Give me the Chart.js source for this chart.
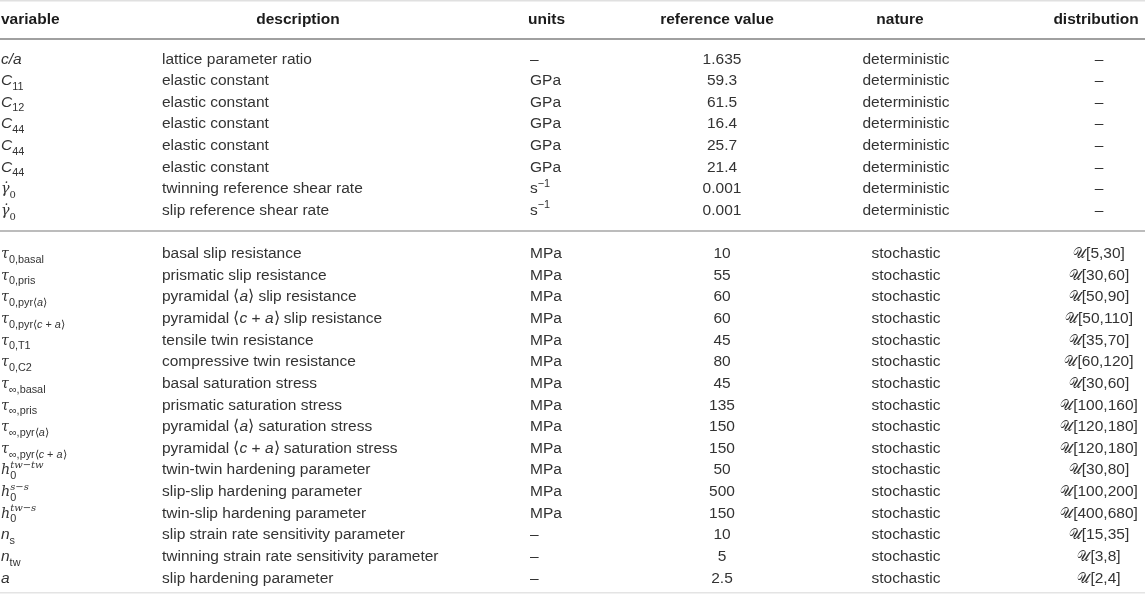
<!DOCTYPE html>
<html>
<head>
<meta charset="utf-8">
<script src="https://cdn.jsdelivr.net/npm/chart.js@4/dist/chart.umd.min.js"></script>
<style>
  html, body { margin: 0; padding: 0; background: #fff; }
  #wrap { width: 1145px; height: 595px; position: relative; }
</style>
</head>
<body>
<div id="wrap"><canvas id="table-chart"></canvas></div>
<script>
// markup: * toggles italic, ! toggles serif, _{..} subscript, ^{..} superscript
const variables = [
    '*c/a*', '*C*_{11}', '*C*_{12}', '*C*_{44}', '*C*_{44}', '*C*_{44}', '!*γ̇*!_{!0!}', '!*γ̇*!_{!0!}',
    '!*τ*!_{0,basal}', '!*τ*!_{0,pris}', '!*τ*!_{0,pyr⟨*a*⟩}', '!*τ*!_{0,pyr⟨*c* + *a*⟩}', '!*τ*!_{0,T1}', '!*τ*!_{0,C2}',
    '!*τ*!_{∞,basal}', '!*τ*!_{∞,pris}', '!*τ*!_{∞,pyr⟨*a*⟩}', '!*τ*!_{∞,pyr⟨*c* + *a*⟩}',
    '!*h*!_{0}^{!*tw−tw*!}', '!*h*!_{0}^{!*s−s*!}', '!*h*!_{0}^{!*tw−s*!}', '*n*_{s}', '*n*_{tw}', '*a*'
];
const descriptions = [
    'lattice parameter ratio', 'elastic constant', 'elastic constant', 'elastic constant', 'elastic constant',
    'elastic constant', 'twinning reference shear rate', 'slip reference shear rate',
    'basal slip resistance', 'prismatic slip resistance', 'pyramidal ⟨*a*⟩ slip resistance',
    'pyramidal ⟨*c* + *a*⟩ slip resistance', 'tensile twin resistance', 'compressive twin resistance',
    'basal saturation stress', 'prismatic saturation stress', 'pyramidal ⟨*a*⟩ saturation stress',
    'pyramidal ⟨*c* + *a*⟩ saturation stress', 'twin-twin hardening parameter', 'slip-slip hardening parameter',
    'twin-slip hardening parameter', 'slip strain rate sensitivity parameter',
    'twinning strain rate sensitivity parameter', 'slip hardening parameter'
];
const units = [
    '–', 'GPa', 'GPa', 'GPa', 'GPa', 'GPa', 's^{−1}', 's^{−1}',
    'MPa', 'MPa', 'MPa', 'MPa', 'MPa', 'MPa', 'MPa', 'MPa', 'MPa', 'MPa', 'MPa', 'MPa', 'MPa', '–', '–', '–'
];
const refValues = ['1.635', '59.3', '61.5', '16.4', '25.7', '21.4', '0.001', '0.001',
    10, 55, 60, 60, 45, 80, 45, 135, 150, 150, 50, 500, 150, 10, 5, 2.5];
const nature = ['deterministic', 'deterministic', 'deterministic', 'deterministic', 'deterministic',
    'deterministic', 'deterministic', 'deterministic',
    'stochastic', 'stochastic', 'stochastic', 'stochastic', 'stochastic', 'stochastic', 'stochastic', 'stochastic',
    'stochastic', 'stochastic', 'stochastic', 'stochastic', 'stochastic', 'stochastic', 'stochastic', 'stochastic'];
const distLow = [null, null, null, null, null, null, null, null,
    5, 30, 50, 50, 35, 60, 30, 100, 120, 120, 30, 100, 400, 15, 3, 2];
const distHigh = [null, null, null, null, null, null, null, null,
    30, 60, 90, 110, 70, 120, 60, 160, 180, 180, 80, 200, 680, 35, 8, 4];
const headers = ['variable', 'description', 'units', 'reference value', 'nature', 'distribution'];

const deterministicCount = 8;

// column layout (x scale units) and alignment
const columns = [
    {x: 1, align: 'left', hx: 1, halign: 'left'},
    {x: 162, align: 'left', hx: 298, halign: 'center'},
    {x: 530, align: 'left', hx: 528, halign: 'left'},
    {x: 722, align: 'center', hx: 717, halign: 'center'},
    {x: 906, align: 'center', hx: 900, halign: 'center'},
    {x: 1099, align: 'center', hx: 1096, halign: 'center'}
];

const cells = [
    variables,
    descriptions,
    units,
    refValues.map(v => String(v)),
    nature,
    distLow.map((lo, i) => lo === null ? '–' : '!𝒰![' + lo + ',' + distHigh[i] + ']')
];

// row slot on the y scale: header 0, rule 1, first block, rule, second block
const rowPos = variables.map((v, i) => i < deterministicCount ? i + 2 : i + 3);

const SANS = '"Liberation Sans", Arial, Helvetica, sans-serif';
const SERIF = '"DejaVu Serif", "Liberation Serif", serif';
const FS = 15.5;

function parseRich(str) {
    const segs = [];
    let italic = false, serif = false, pos = 'base', buf = '', group = 0;
    const flush = () => {
        if (buf) segs.push({text: buf, italic, serif, pos, group});
        buf = '';
    };
    for (let i = 0; i < str.length; i++) {
        const ch = str[i];
        if (ch === '*') { flush(); italic = !italic; }
        else if (ch === '!') { flush(); serif = !serif; }
        else if ((ch === '_' || ch === '^') && str[i + 1] === '{') {
            flush(); pos = ch === '_' ? 'sub' : 'sup'; group++; i++;
        }
        else if (ch === '}' && pos !== 'base') { flush(); pos = 'base'; group++; }
        else buf += ch;
    }
    flush();
    return segs;
}

function segFont(s, size, bold) {
    let sz = s.pos === 'base' ? size : size * 0.7;
    if (s.serif) sz *= 0.92;
    return (s.italic ? 'italic ' : '') + (bold ? 'bold ' : '') + sz + 'px ' + (s.serif ? SERIF : SANS);
}

function layoutRich(ctx, str, size, bold) {
    const segs = parseRich(str);
    let x = 0, maxX = 0, subStart = null, subEnd = 0, lastPos = 'base', lastGroup = -1;
    segs.forEach(s => {
        ctx.font = segFont(s, size, bold);
        if (s.group !== lastGroup) {
            if (s.pos === 'sub') { subStart = x; }
            if (s.pos === 'sup' && lastPos === 'sub' && subStart !== null) { subEnd = x; x = subStart; }
            if (s.pos === 'base') subStart = null;
        }
        s.dx = x;
        x += ctx.measureText(s.text).width;
        maxX = Math.max(maxX, x, subEnd);
        lastPos = s.pos;
        lastGroup = s.group;
    });
    return {segs, width: maxX};
}

function drawRich(ctx, str, x, y, align, size, bold, color) {
    const lay = layoutRich(ctx, str, size, bold);
    const x0 = align === 'center' ? x - lay.width / 2 : x;
    ctx.fillStyle = color;
    ctx.textBaseline = 'alphabetic';
    ctx.textAlign = 'left';
    const base = y + size * 0.36;
    lay.segs.forEach(s => {
        ctx.font = segFont(s, size, bold);
        let yy = base;
        if (s.pos === 'sub') yy = base + size * 0.3;
        if (s.pos === 'sup') yy = base - size * 0.42;
        ctx.fillText(s.text, x0 + s.dx, yy);
    });
}

const rules = [
    {y: -0.64, color: '#e0e0e0', width: 1.5},
    {y: 1.12, color: '#a0a0a0', width: 2},
    {y: 10, color: '#a6a6a6', width: 1.5},
    {y: 26.73, color: '#e4e4e4', width: 1.5}
];

const tablePlugin = {
    id: 'tableText',
    afterDatasetsDraw(chart) {
        const ctx = chart.ctx;
        const xs = chart.scales.x, ys = chart.scales.y;
        ctx.save();
        rules.forEach(r => {
            const py = ys.getPixelForValue(r.y);
            ctx.strokeStyle = r.color;
            ctx.lineWidth = r.width;
            ctx.beginPath();
            ctx.moveTo(xs.getPixelForValue(xs.min), py);
            ctx.lineTo(xs.getPixelForValue(xs.max), py);
            ctx.stroke();
        });
        headers.forEach((h, c) => {
            drawRich(ctx, h, xs.getPixelForValue(columns[c].hx), ys.getPixelForValue(0.15),
                columns[c].halign, 15.5, true, '#1b1b1b');
        });
        chart.data.datasets.forEach((ds, d) => {
            const meta = chart.getDatasetMeta(d);
            meta.data.forEach((pt, i) => {
                drawRich(ctx, cells[d][i], pt.x, pt.y, columns[d].align, FS, false, '#333333');
            });
        });
        ctx.restore();
    }
};

const ctx = document.getElementById('table-chart').getContext('2d');
const tableChart = new Chart(ctx, {
    type: 'scatter',
    data: {
        datasets: columns.map((col, c) => ({
            label: headers[c],
            data: rowPos.map(r => ({x: col.x, y: r})),
            pointRadius: 0,
            pointHoverRadius: 0
        }))
    },
    options: {
        responsive: true,
        maintainAspectRatio: false,
        animation: false,
        events: [],
        layout: {padding: 0},
        scales: {
            x: {type: 'linear', display: false, min: 0, max: 1145},
            y: {type: 'linear', display: false, reverse: true, min: -0.68, max: 26.83}
        },
        plugins: {
            legend: false,
            tooltip: {enabled: false}
        }
    },
    plugins: [tablePlugin]
});
</script>
</body>
</html>
